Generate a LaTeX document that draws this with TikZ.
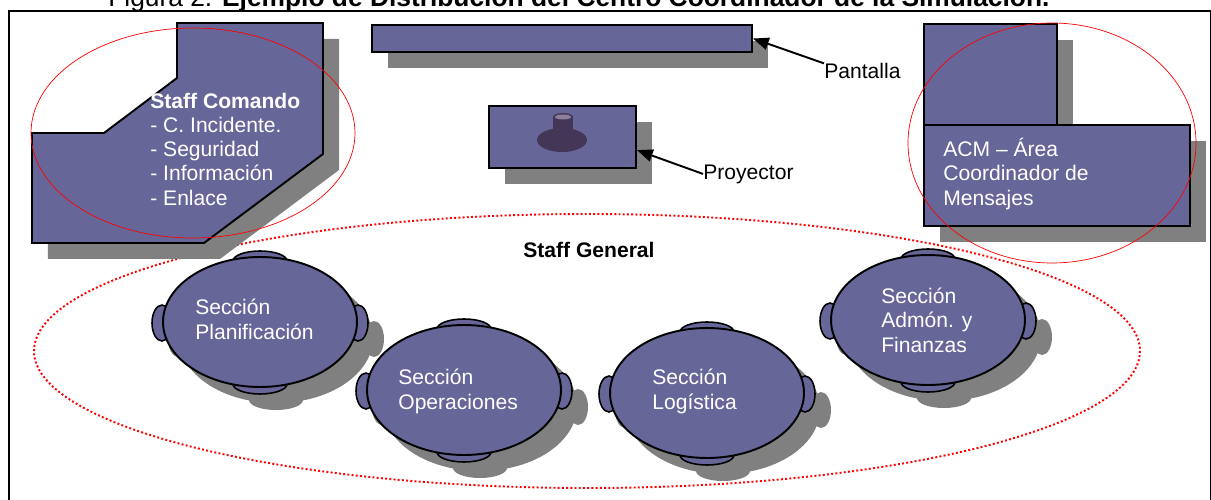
\documentclass[tikz,border=0pt]{standalone}
\usepackage{fontspec}
\setmainfont{Liberation Sans}
\usetikzlibrary{arrows.meta, shapes.geometric, shadows}

\definecolor{mueble}{HTML}{666699}
\definecolor{sombra}{HTML}{808080}
\definecolor{lente}{HTML}{433656}
\definecolor{lentetop}{HTML}{8C809C}

\begin{document}
\begin{tikzpicture}[
    x=0.02cm, y=-0.02cm,
    sombreado/.style={drop shadow={shadow xshift=0.32cm, shadow yshift=-0.32cm, fill=sombra, opacity=1}},
    bloque/.style={rectangle, draw, line width=1.1pt, fill=mueble, inner sep=0pt, sombreado},
    mesa/.style={ellipse, draw, line width=1.1pt, fill=mueble, minimum width=3.88cm, minimum height=2.6cm, inner sep=0pt},
    silla/.style={draw, line width=0.9pt, fill=mueble},
    rotulo/.style={font=\fontsize{12}{13.8}\selectfont, text=white, align=left, inner sep=0pt, anchor=base west},
    texto/.style={font=\fontsize{12}{13.8}\selectfont, inner sep=0pt, anchor=base west},
    zona/.style={red, line width=0.4pt},
    grupo/.style={red, line width=1.1pt, dash pattern=on 1.1pt off 1.3pt},
    flecha/.style={-{Triangle[length=9pt, width=7pt]}, line width=1.1pt}
]
\useasboundingbox (0,0) rectangle (1211,500);
\clip (0,0) rectangle (1211,500);

\node[texto, font=\fontsize{15}{18}\selectfont] (titulo) at (108,7) {Figura 2. \textbf{Ejemplo de Distribución del Centro Coordinador de la Simulación.}};
\draw[line width=1pt] (9,530) -- (9,11) -- (1211,11) -- (1211,530);

\draw[grupo] (587,351) ellipse [x radius=553, y radius=137];

\draw[line width=1.1pt, fill=mueble, sombreado] (177,23) -- (323,23) -- (323,154) -- (204,243) -- (32,243) -- (32,133) -- (104,133) -- (177,78) -- cycle;

\node[bloque, minimum width=7.6cm, minimum height=0.54cm] (pantalla) at (562,38.5) {};
\node[bloque, minimum width=2.94cm, minimum height=1.24cm] (proyector) at (562.5,137) {};
\fill[lente] (562,140) ellipse [x radius=25, y radius=12];
\fill[lente] (553,117) rectangle (573,140);
\fill[lente] (563,117) ellipse [x radius=10, y radius=4];
\fill[lentetop] (563,117) ellipse [x radius=8, y radius=2.5];

\node[bloque, minimum width=2.66cm, minimum height=2.02cm] (acmAlto) at (990.5,74.5) {};
\node[bloque, minimum width=5.32cm, minimum height=2.02cm] (acm) at (1057,175.5) {};

\foreach \cx/\cy/\nm in {260/322/plan, 464/390/oper, 707/393/logi, 928/320/admon}{
  \begin{scope}[shift={(\cx+16,\cy+16)}]
    \fill[sombra] (0,0) ellipse [x radius=97, y radius=65];
    \fill[sombra] (0,-61) ellipse [x radius=27, y radius=10];
    \fill[sombra] (0,62) ellipse [x radius=27, y radius=10];
    \fill[sombra] (-98,1) ellipse [x radius=10, y radius=18];
    \fill[sombra] (98,1) ellipse [x radius=10, y radius=18];
  \end{scope}
  \begin{scope}[shift={(\cx,\cy)}]
    \draw[silla] (0,-61) ellipse [x radius=27, y radius=10];
    \draw[silla] (0,62) ellipse [x radius=27, y radius=10];
    \draw[silla] (-98,1) ellipse [x radius=10, y radius=18];
    \draw[silla] (98,1) ellipse [x radius=10, y radius=18];
    \node[mesa] (\nm) at (0,0) {};
  \end{scope}
}

\draw[zona] (193,133) ellipse [x radius=162, y radius=105];
\draw[zona] (1052,143) ellipse [x radius=144, y radius=120];

\node[rotulo] (comandoTxt) at (150,205) {\textbf{Staff Comando}\\- C. Incidente.\\- Seguridad\\- Información\\- Enlace};
\node[rotulo] (acmTxt) at (943,205) {ACM – Área\\Coordinador de\\Mensajes};
\node[rotulo] (planTxt) at (195,339) {Sección\\Planificación};
\node[rotulo] (operTxt) at (398,409) {Sección\\Operaciones};
\node[rotulo] (logiTxt) at (652,409) {Sección\\Logística};
\node[rotulo] (admonTxt) at (881,352) {Sección\\Admón. y\\Finanzas};
\node[texto, font=\fontsize{12}{13.8}\selectfont\bfseries] (generalTxt) at (523,257) {Staff General};
\node[texto] (pantallaTxt) at (824,79) {Pantalla};
\node[texto] (proyTxt) at (703,179) {Proyector};

\draw[flecha] (pantallaTxt.north west) -- (pantalla.east);
\draw[flecha] (proyTxt.west) -- (proyector.-10);

\end{tikzpicture}
\end{document}
